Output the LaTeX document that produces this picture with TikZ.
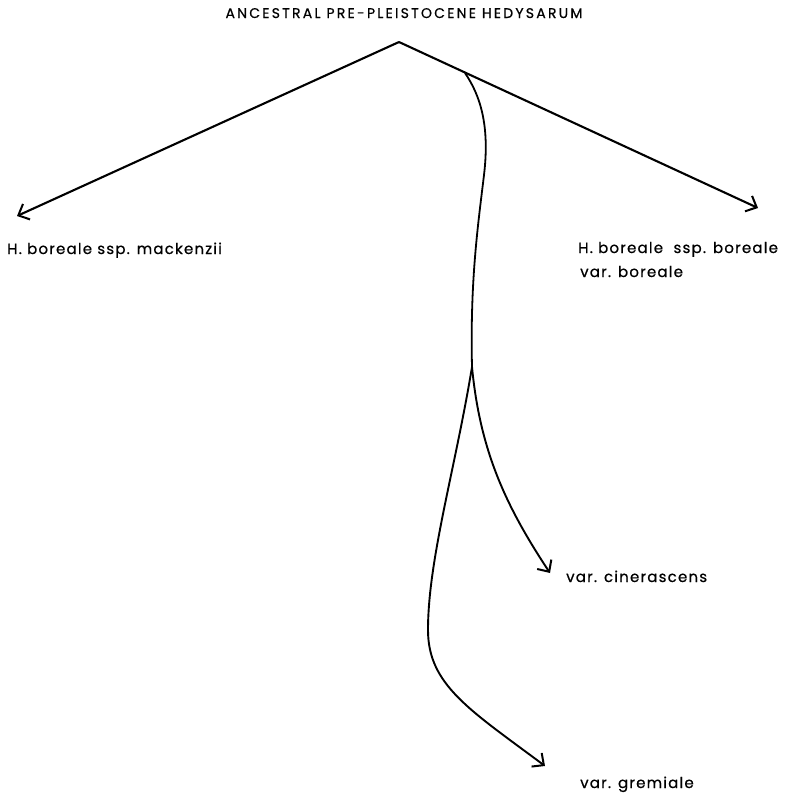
\documentclass[tikz,border=0pt]{standalone}
\usepackage{fontspec}
\setmainfont{Poppins}
\newfontfamily\lblfont[LetterSpace=8,FakeBold=0.6]{Poppins}
\newfontfamily\ttlfont[LetterSpace=16,FakeBold=0.6]{Poppins}
\usetikzlibrary{arrows.meta}
\begin{document}
\begin{tikzpicture}[x=1pt,y=-1pt,
  branch/.style={line width=2.1pt,-{Straight Barb[length=9pt,width=17pt,line width=2pt]}},
  lbl/.style={anchor=base west,inner sep=0pt,font=\lblfont\fontsize{15}{17}\selectfont},
  ttl/.style={anchor=base,inner sep=0pt,font=\ttlfont\fontsize{14}{16}\selectfont}]
\useasboundingbox (0,0) rectangle (785,793);
\node[ttl] (title) at (404,18) {ANCESTRAL PRE-PLEISTOCENE HEDYSARUM};
\coordinate (apex) at (399,42);
\coordinate (tipL) at (17,216);
\coordinate (tipR) at (758,208);
\coordinate (br) at (465,73);
\coordinate (split) at (472,367);
\coordinate (tipC) at (550,573);
\coordinate (tipG) at (545,766);
\node[lbl] (mack) at (7,254) {H. boreale ssp. mackenzii};
\node[lbl] (bor) at (578,253) {H. boreale\ \ ssp. boreale};
\node[lbl] (vbor) at (580,277) {var. boreale};
\node[lbl] (cin) at (566,582) {var. cinerascens};
\node[lbl] (grem) at (580,788) {var. gremiale};
\draw[branch] (apex) -- (tipL);
\draw[branch] (apex) -- (tipR);
\draw[line width=1.8pt] (br) .. controls (480,95) and (490,125) .. (484,175)
  .. controls (478,225) and (470,280) .. (split);
\draw[branch,line width=1.9pt] (split) .. controls (480,450) and (505,505) .. (tipC);
\draw[branch,line width=1.9pt] (split) .. controls (455,470) and (428,560) .. (428,630)
  .. controls (428,685) and (470,710) .. (tipG);
\end{tikzpicture}
\end{document}
